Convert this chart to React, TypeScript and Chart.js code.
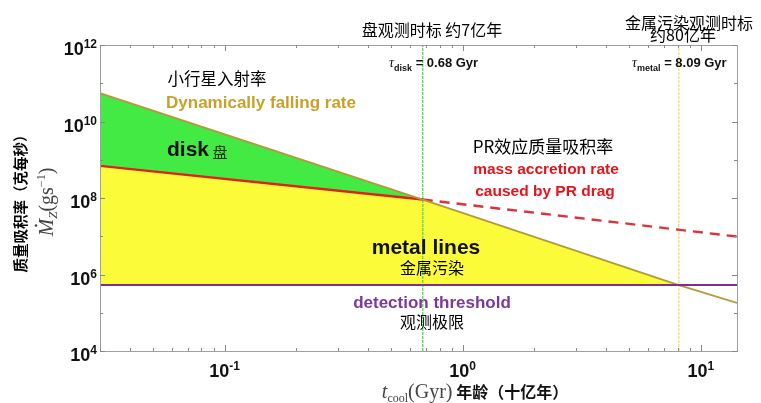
import { useEffect, useRef } from "react";
import { Chart, registerables } from "chart.js";

Chart.register(...registerables);

// ---- data ----
const xRange = [0.03, 14.2];
const yRange = [1e4, 1e12];
const tauDisk = 0.68;
const tauMetal = 8.09;
const dynamicAge = [0.03, 0.68, 8.09, 14.2];
const dynamicRate = [5.5e10, 9.1e7, 5.3e5, 1.8e5];
const prAge = [0.03, 0.68];
const prRate = [6.9e8, 9.1e7];
const prDashedAge = [0.68, 14.2];
const prDashedRate = [9.1e7, 9.8e6];
const threshold = 5.3e5;
const yTickValues = [1e4, 1e6, 1e8, 1e10, 1e12];
const yTickExps = ["4", "6", "8", "10", "12"];
const xTickValues = [0.1, 1, 10];
const xTickExps = ["-1", "0", "1"];

const CJK = '"Noto Sans CJK SC", "Noto Sans", sans-serif';
const SANS = '"Liberation Sans", Arial, sans-serif';
const SERIF = '"Liberation Serif", "DejaVu Serif", serif';

type Part = { t: string; f: string; dy?: number; c?: string; dot?: boolean };

function rich(ctx: CanvasRenderingContext2D, parts: Part[], x: number, y: number, align: "left" | "center" | "right" = "left") {
  ctx.textBaseline = "alphabetic";
  ctx.textAlign = "left";
  let w = 0;
  for (const p of parts) {
    ctx.font = p.f;
    w += ctx.measureText(p.t).width;
  }
  let cx = align === "left" ? x : align === "center" ? x - w / 2 : x - w;
  for (const p of parts) {
    ctx.font = p.f;
    ctx.fillStyle = p.c || "#000";
    const pw = ctx.measureText(p.t).width;
    ctx.fillText(p.t, cx, y + (p.dy || 0));
    if (p.dot) {
      ctx.beginPath();
      ctx.arc(cx + pw * 0.62, y + (p.dy || 0) - 17, 1.3, 0, Math.PI * 2);
      ctx.fill();
    }
    cx += pw;
  }
}

const overlay = {
  id: "overlay",
  afterDraw(chart: any) {
    const { ctx, chartArea: a, scales } = chart;
    const xs = scales.x;
    const ys = scales.y;
    ctx.save();
    // frame
    ctx.strokeStyle = "#a0a0a0";
    ctx.lineWidth = 1;
    ctx.strokeRect(a.left + 0.5, a.top + 0.5, a.right - a.left, a.bottom - a.top);
    const seg = (x1: number, y1: number, x2: number, y2: number) => {
      ctx.beginPath();
      ctx.moveTo(x1, y1);
      ctx.lineTo(x2, y2);
      ctx.stroke();
    };
    // y ticks (major at even decades, minor at odd decades)
    ctx.strokeStyle = "#888";
    for (let e = 4; e <= 12; e++) {
      const py = Math.round(ys.getPixelForValue(Math.pow(10, e))) + 0.5;
      const len = e % 2 === 0 ? 5 : 3;
      seg(a.left, py, a.left + len, py);
      seg(a.right, py, a.right - len, py);
    }
    // x ticks
    for (const d of [0.01, 0.1, 1, 10]) {
      for (let m = 1; m <= 9; m++) {
        const v = m * d;
        if (v < xRange[0] || v > xRange[1]) continue;
        const px = Math.round(xs.getPixelForValue(v)) + 0.5;
        const len = m === 1 ? 6 : 3;
        seg(px, a.bottom, px, a.bottom - len);
        seg(px, a.top, px, a.top + len);
      }
    }
    // y tick labels
    yTickValues.forEach((v, i) => {
      const py = ys.getPixelForValue(v);
      rich(ctx, [
        { t: "10", f: `bold 18px ${SANS}`, c: "#111" },
        { t: yTickExps[i], f: `bold 12px ${SANS}`, dy: -7, c: "#111" },
      ], 97, py + 10, "right");
    });
    // x tick labels
    xTickValues.forEach((v, i) => {
      const px = xs.getPixelForValue(v);
      rich(ctx, [
        { t: "10", f: `bold 18px ${SANS}`, c: "#111" },
        { t: xTickExps[i], f: `bold 12px ${SANS}`, dy: -7, c: "#111" },
      ], px, 377, "center");
    });

    // top annotations
    rich(ctx, [{ t: "盘观测时标 约7亿年", f: `16px ${CJK}` }], 432, 36, "center");
    rich(ctx, [{ t: "金属污染观测时标", f: `16px ${CJK}` }], 689, 29, "center");
    rich(ctx, [{ t: "约80亿年", f: `16px ${CJK}` }], 683, 41, "center");

    const tauLabel = (sub: string, val: number, x: number) =>
      rich(ctx, [
        { t: "τ", f: `italic 14px ${SERIF}`, c: "#111" },
        { t: sub, f: `bold 9px ${SANS}`, dy: 4, c: "#111" },
        { t: ` = ${val.toFixed(2)} Gyr`, f: `bold 13px ${SANS}`, c: "#111" },
      ], x, 67);
    tauLabel("disk", tauDisk, 389);
    tauLabel("metal", tauMetal, 632);

    rich(ctx, [{ t: "小行星入射率", f: `16.5px ${CJK}` }], 217, 85, "center");
    rich(ctx, [{ t: "Dynamically falling rate", f: `bold 17px ${SANS}`, c: "#c9a02a" }], 261, 108, "center");
    rich(ctx, [
      { t: "disk", f: `bold 21px ${SANS}`, c: "#111" },
      { t: " 盘", f: `15px ${CJK}`, dy: 2, c: "#1b2e1b" },
    ], 167, 156, "left");

    rich(ctx, [{ t: "PR效应质量吸积率", f: `17px ${CJK}` }], 543, 153, "center");
    rich(ctx, [{ t: "mass accretion rate", f: `bold 15.5px ${SANS}`, c: "#e3141c" }], 546, 173.5, "center");
    rich(ctx, [{ t: "caused by PR drag", f: `bold 15.5px ${SANS}`, c: "#e3141c" }], 545, 195.5, "center");

    rich(ctx, [{ t: "metal lines", f: `bold 21px ${SANS}`, c: "#111" }], 426, 254, "center");
    rich(ctx, [{ t: "金属污染", f: `16px ${CJK}` }], 432, 274, "center");
    rich(ctx, [{ t: "detection threshold", f: `bold 17px ${SANS}`, c: "#7b3a9a" }], 432, 308, "center");
    rich(ctx, [{ t: "观测极限", f: `16px ${CJK}` }], 432, 328, "center");

    // axis titles
    ctx.save();
    ctx.translate(21, 200);
    ctx.rotate(-Math.PI / 2);
    rich(ctx, [{ t: "质量吸积率（克每秒）", f: `bold 14.5px ${CJK}` }], 0, 5, "center");
    ctx.restore();
    ctx.save();
    ctx.translate(46, 202);
    ctx.rotate(-Math.PI / 2);
    rich(ctx, [
      { t: "M", f: `italic 21px ${SERIF}`, c: "#444", dot: true },
      { t: "Z", f: `italic 13px ${SERIF}`, dy: 4, c: "#444" },
      { t: "(gs", f: `20px ${SERIF}`, c: "#444" },
      { t: "−1", f: `12px ${SERIF}`, dy: -8, c: "#444" },
      { t: ")", f: `20px ${SERIF}`, c: "#444" },
    ], 0, 7, "center");
    ctx.restore();
    rich(ctx, [
      { t: "t", f: `italic 20px ${SERIF}`, c: "#444" },
      { t: "cool", f: `12px ${SERIF}`, dy: 4, c: "#444" },
      { t: "(Gyr)", f: `20px ${SERIF}`, c: "#444" },
      { t: " 年龄（十亿年）", f: `bold 16px ${CJK}`, c: "#111" },
    ], 475, 398, "center");
    ctx.restore();
  },
};

export default function App() {
  const ref = useRef<HTMLCanvasElement | null>(null);
  useEffect(() => {
    if (!ref.current) return;
    const pts = (xs: number[], ys: number[]) => xs.map((x, i) => ({ x, y: ys[i] }));
    const yellowTop = [
      { x: prAge[0], y: prRate[0] },
      { x: tauDisk, y: dynamicRate[1] },
      { x: tauMetal, y: dynamicRate[2] },
    ];
    const base = { pointRadius: 0, tension: 0 };
    const chart = new Chart(ref.current, {
      type: "line",
      data: {
        datasets: [
          { ...base, label: "threshold", data: [{ x: xRange[0], y: threshold }, { x: xRange[1], y: threshold }], borderColor: "#7b2f92", borderWidth: 2, fill: false },
          { ...base, label: "dynamic", data: pts(dynamicAge, dynamicRate), borderColor: "#b39a3c", borderWidth: 1.8, fill: false },
          { ...base, label: "pr", data: pts(prAge, prRate), borderColor: "#e0211b", borderWidth: 2.4, fill: false },
          { ...base, label: "prDashed", data: pts(prDashedAge, prDashedRate), borderColor: "#e0303a", borderWidth: 2.4, borderDash: [10, 7], fill: false },
          { ...base, label: "tauDisk", data: [{ x: tauDisk, y: yRange[0] }, { x: tauDisk, y: yRange[1] }], borderColor: "#62d862", borderWidth: 1.4, borderDash: [3, 1], fill: false },
          { ...base, label: "tauMetal", data: [{ x: tauMetal, y: yRange[0] }, { x: tauMetal, y: yRange[1] }], borderColor: "#e8e27a", borderWidth: 1.4, borderDash: [3, 1], fill: false },
          { ...base, label: "diskFill", data: pts(dynamicAge.slice(0, 2), dynamicRate.slice(0, 2)), borderWidth: 0, borderColor: "rgba(0,0,0,0)", backgroundColor: "#43ea43", fill: 2 },
          { ...base, label: "metalFill", data: yellowTop, borderWidth: 0, borderColor: "rgba(0,0,0,0)", backgroundColor: "#fbfb3a", fill: { value: threshold } },
        ],
      },
      options: {
        responsive: false,
        animation: false,
        layout: { padding: { left: 100, top: 45, right: 24, bottom: 52 } },
        scales: {
          x: { type: "logarithmic", min: xRange[0], max: xRange[1], display: false },
          y: { type: "logarithmic", min: yRange[0], max: yRange[1], display: false },
        },
        plugins: {
          legend: { display: false },
          tooltip: { enabled: false },
          filler: { drawTime: "beforeDatasetsDraw" },
        } as any,
      },
      plugins: [overlay],
    });
    return () => chart.destroy();
  }, []);
  return (
    <div style={{ position: "absolute", left: 0, top: 0, width: 761, height: 403, background: "#fff" }}>
      <canvas ref={ref} width={761} height={403} />
    </div>
  );
}
